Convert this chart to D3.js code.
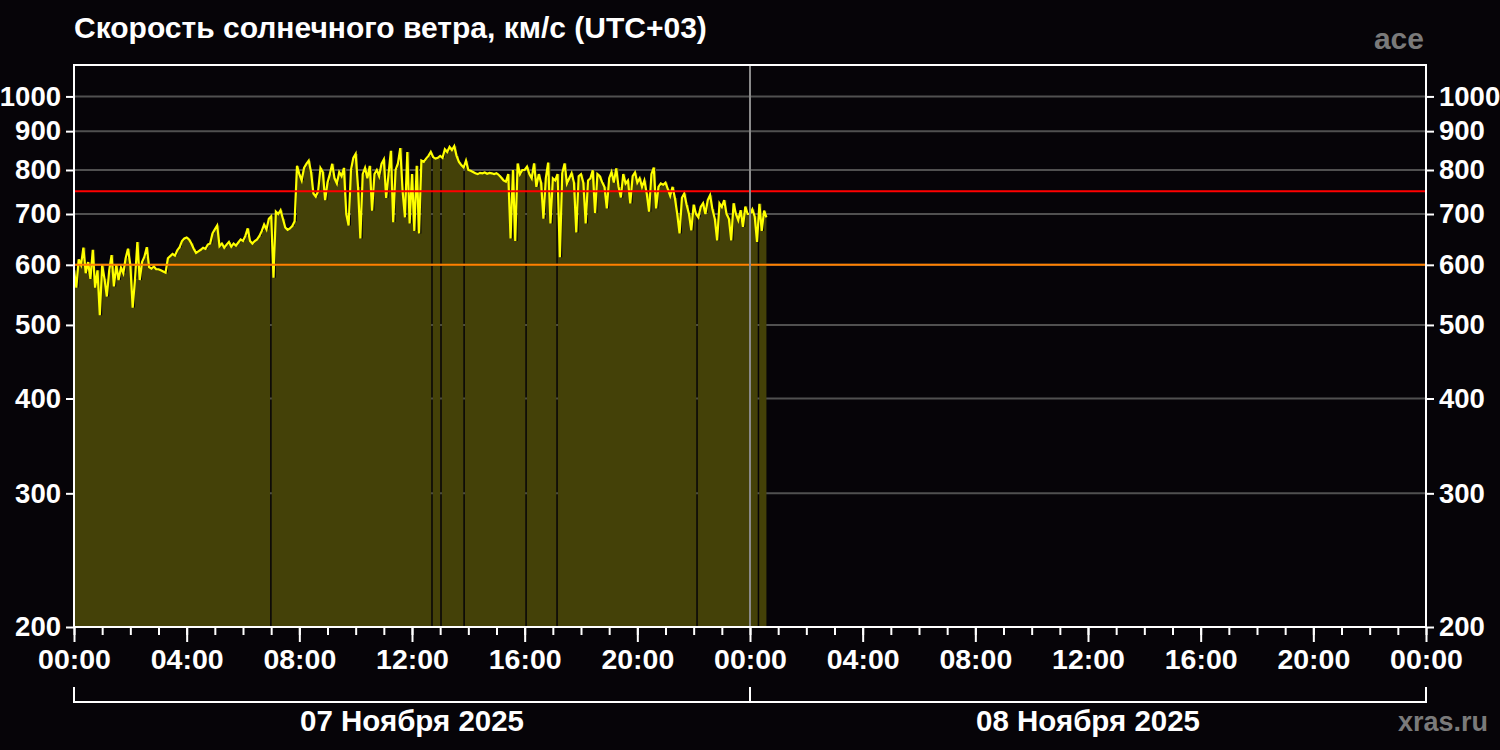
<!DOCTYPE html>
<html>
<head>
<meta charset="utf-8">
<script src="https://cdn.jsdelivr.net/npm/d3@7"></script>
<style>
  html, body { margin: 0; padding: 0; background: #060408; }
  svg { display: block; }
  text { font-family: "Liberation Sans", Arial, Helvetica, sans-serif; font-weight: bold; }
</style>
</head>
<body>
<svg id="chart" width="1500" height="750"></svg>
<script>
// ---------------- DATA ----------------
const titleText = "Скорость солнечного ветра, км/с (UTC+03)";
const sourceLabel = "ace";
const siteLabel = "xras.ru";
const dayLabels = ["07 Ноября 2025", "08 Ноября 2025"];
const yTickValues = [200, 300, 400, 500, 600, 700, 800, 900, 1000];
const thresholdRed = 750;
const thresholdOrange = 600;
const sampleStepMinutes = 5;   // samples start at 07 Nov 00:00 (UTC+03)

// solar wind speed, km/s, one value every 5 minutes
const speed00to06 = [
  590, 560, 610, 600, 632, 585, 605, 575, 628, 560, 590, 515,
  600, 575, 545, 590, 618, 562, 600, 573, 595, 585, 612, 630,
  600, 527, 575, 643, 573, 605, 615, 633, 596, 593, 597, 592,
  592, 590, 588, 586, 612, 616, 620, 617, 627, 633, 645, 650,
  652, 648, 640, 630, 622, 625, 628, 632, 630, 638, 640, 660,
  668, 676, 635, 640, 632, 638, 643, 634, 640, 636, 642, 648
];
const speed06to12 = [
  645, 655, 670, 645, 640, 645, 648, 655, 665, 678, 668, 690,
  695, 577, 705, 700, 708, 690, 672, 667, 670, 675, 685, 810,
  790, 775, 805, 815, 823, 795, 745, 738, 750, 805, 795, 730,
  770, 790, 815, 780, 768, 795, 785, 805, 700, 676, 800, 830,
  840, 760, 650, 790, 805, 780, 810, 707, 790, 800, 785, 815,
  826, 735, 790, 848, 683, 800, 816, 855, 750, 693, 845, 680
];
const speed12to18 = [
  790, 665, 810, 660, 823, 820, 828, 835, 845, 832, 828, 830,
  835, 830, 852, 845, 858, 850, 860, 835, 820, 812, 806, 823,
  800, 798, 795, 792, 790, 793, 792, 794, 791, 793, 792, 790,
  792, 788, 782, 775, 772, 790, 650, 800, 645, 816, 790, 800,
  800, 808, 790, 780, 816, 760, 790, 770, 690, 780, 818, 680,
  780, 775, 790, 614, 792, 816, 768, 780, 792, 770, 662, 785
];
const speed18to2435 = [
  790, 770, 680, 775, 780, 799, 702, 790, 785, 771, 760, 712,
  780, 795, 770, 804, 760, 736, 790, 768, 775, 723, 785, 794,
  770, 780, 760, 775, 745, 705, 790, 806, 712, 760, 768, 765,
  770, 755, 740, 760, 735, 700, 660, 735, 745, 720, 700, 666,
  720, 700, 693, 715, 723, 700, 730, 741, 710, 690, 646, 723,
  715, 730, 700, 690, 646, 723, 700, 687, 708, 673, 716, 700,
  700, 710, 695, 643, 722, 665, 707, 693
];
// data gaps (hours since 07 Nov 00:00)
const gapHours = [6.99, 12.71, 13.03, 13.85, 16.05, 17.15, 22.12, 24.3];

// ---------------- CHART ----------------
const W = 1500, H = 750;
const M = { left: 74, right: 74, top: 65, bottom: 123 };
const plotL = M.left, plotR = W - M.right, plotT = M.top, plotB = H - M.bottom;

const t0 = Date.UTC(2025, 10, 7, 0, 0);
const t1 = Date.UTC(2025, 10, 9, 0, 0);
const tMid = Date.UTC(2025, 10, 8, 0, 0);
const hourMs = 3600 * 1000;

const allSpeeds = [].concat(speed00to06, speed06to12, speed12to18, speed18to2435);
const data = allSpeeds.map((v, i) => ({ t: new Date(t0 + i * sampleStepMinutes * 60000), v }));

const x = d3.scaleUtc().domain([new Date(t0), new Date(t1)]).range([plotL, plotR]);
const y = d3.scaleLog().domain([200, 1100]).range([plotB, plotT]);

const svg = d3.select("#chart");
svg.append("rect").attr("width", W).attr("height", H).attr("fill", "#060408");

// grid
svg.append("g").selectAll("line").data(yTickValues).join("line")
  .attr("x1", plotL).attr("x2", plotR)
  .attr("y1", d => y(d)).attr("y2", d => y(d))
  .attr("stroke", "#505050").attr("stroke-width", 2);

// clip for gaps in the filled area
const bounds = [t0].concat(gapHours.map(h => t0 + h * hourMs)).concat([data[data.length - 1].t.getTime()]);
const clip = svg.append("defs").append("clipPath").attr("id", "gapclip");
for (let i = 0; i < bounds.length - 1; i++) {
  const a = x(new Date(bounds[i])) + (i === 0 ? -2 : 0.75);
  const b = x(new Date(bounds[i + 1])) - (i === bounds.length - 2 ? -1 : 0.75);
  clip.append("rect").attr("x", a).attr("y", plotT).attr("width", Math.max(0, b - a)).attr("height", plotB - plotT);
}

const area = d3.area().x(d => x(d.t)).y0(y(200)).y1(d => y(d.v)).curve(d3.curveStepAfter);
svg.append("path").datum(data).attr("d", area)
  .attr("fill", "#444108").attr("clip-path", "url(#gapclip)");

const line = d3.line().x(d => x(d.t)).y(d => y(d.v)).curve(d3.curveLinear);
svg.append("path").datum(data).attr("d", line)
  .attr("fill", "none").attr("stroke", "#ffff00").attr("stroke-width", 2.2).attr("stroke-linejoin", "miter");

// threshold lines
svg.append("line").attr("x1", plotL).attr("x2", plotR).attr("y1", y(thresholdRed)).attr("y2", y(thresholdRed))
  .attr("stroke", "#ff0000").attr("stroke-width", 2);
svg.append("line").attr("x1", plotL).attr("x2", plotR).attr("y1", y(thresholdOrange)).attr("y2", y(thresholdOrange))
  .attr("stroke", "#ff8000").attr("stroke-width", 2);

// midnight divider
svg.append("line").attr("x1", x(new Date(tMid))).attr("x2", x(new Date(tMid)))
  .attr("y1", plotT).attr("y2", plotB).attr("stroke", "#8a8a8a").attr("stroke-width", 2);

// frame
svg.append("rect").attr("x", plotL).attr("y", plotT).attr("width", plotR - plotL).attr("height", plotB - plotT)
  .attr("fill", "none").attr("stroke", "#ffffff").attr("stroke-width", 2);

// y axes
const fmtY = d3.format("d");
const yLeft = d3.axisLeft(y).tickValues(yTickValues).tickFormat(fmtY).tickSize(8).tickPadding(5);
const yRight = d3.axisRight(y).tickValues(yTickValues).tickFormat(fmtY).tickSize(8).tickPadding(5);
function styleAxis(g, size) {
  g.select(".domain").remove();
  g.selectAll(".tick line").attr("stroke", "#ffffff").attr("stroke-width", 2);
  g.selectAll(".tick text").attr("fill", "#ffffff").style("font-size", size + "px")
    .style("font-family", "'Liberation Sans', Arial, sans-serif").style("font-weight", "bold");
}
svg.append("g").attr("transform", `translate(${plotL},0)`).call(yLeft).call(g => styleAxis(g, 27.5));
svg.append("g").attr("transform", `translate(${plotR},0)`).call(yRight).call(g => styleAxis(g, 27.5));

// x axis: minor hourly ticks, major every 4h
const xMinor = d3.axisBottom(x).ticks(d3.utcHour.every(1)).tickSize(8).tickFormat("");
svg.append("g").attr("transform", `translate(0,${plotB})`).call(xMinor).call(g => styleAxis(g, 10));
const xMajor = d3.axisBottom(x).ticks(d3.utcHour.every(4)).tickSize(15).tickPadding(7).tickFormat(d3.utcFormat("%H:%M"));
svg.append("g").attr("transform", `translate(0,${plotB})`).call(xMajor).call(g => styleAxis(g, 28.5));

// day bracket
const bracketY = 702;
svg.append("line").attr("x1", plotL).attr("x2", plotR).attr("y1", bracketY).attr("y2", bracketY)
  .attr("stroke", "#ffffff").attr("stroke-width", 2);
[t0, tMid, t1].forEach(t => {
  svg.append("line").attr("x1", x(new Date(t))).attr("x2", x(new Date(t)))
    .attr("y1", bracketY - 15).attr("y2", bracketY + 1).attr("stroke", "#ffffff").attr("stroke-width", 2);
});
const dayStarts = [t0, tMid];
svg.append("g").selectAll("text").data(dayLabels).join("text")
  .attr("x", (d, i) => (x(new Date(dayStarts[i])) + x(new Date(dayStarts[i] + 24 * hourMs))) / 2)
  .attr("y", 731).attr("text-anchor", "middle").attr("fill", "#ffffff")
  .style("font-size", "29.5px").text(d => d);

// title & labels
svg.append("text").attr("x", plotL).attr("y", 38).attr("fill", "#ffffff")
  .style("font-size", "30px").text(titleText);
svg.append("text").attr("x", plotR - 2).attr("y", 49).attr("text-anchor", "end").attr("fill", "#7a7a7a")
  .style("font-size", "30px").text(sourceLabel);
svg.append("text").attr("x", 1488).attr("y", 731).attr("text-anchor", "end").attr("fill", "#7a7a7a")
  .style("font-size", "27px").text(siteLabel);
</script>
</body>
</html>
